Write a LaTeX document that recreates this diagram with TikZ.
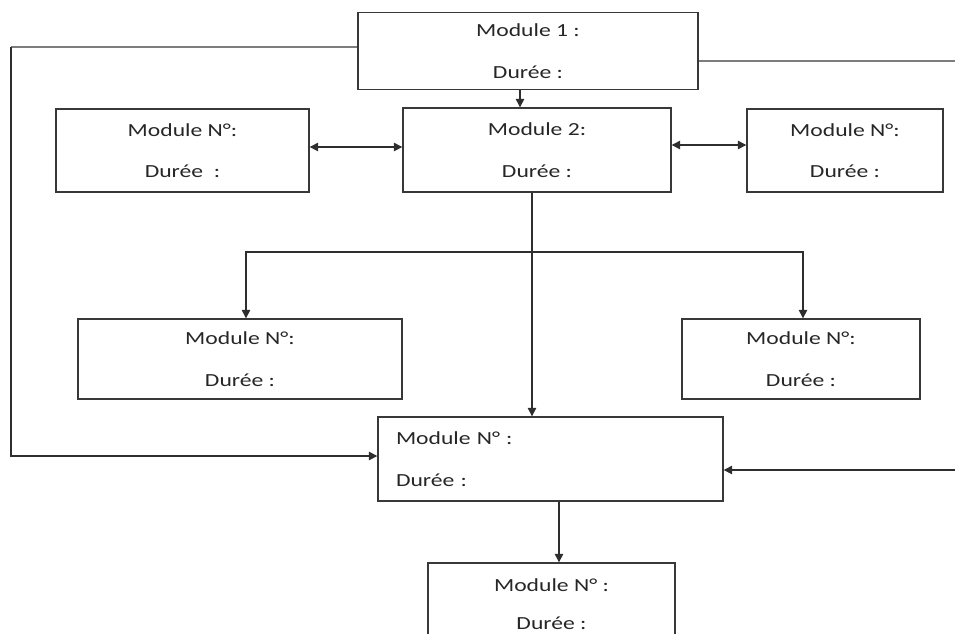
\documentclass[tikz,border=0pt]{standalone}
\usepackage{fontspec}
\setmainfont{Carlito}[FakeStretch=1.28]
\usetikzlibrary{arrows.meta}
\tikzset{
  module/.style={draw=black!78, line width=0.8pt, rectangle, inner sep=0pt, align=center,
    text=black!85, font=\fontsize{10.5}{12.6}\selectfont},
  fleche/.style={draw=black!82, line width=0.8pt, -{Triangle[length=1.7mm,width=1.7mm]}},
  fleches/.style={draw=black!82, line width=0.8pt, {Triangle[length=1.7mm,width=1.7mm]}-{Triangle[length=1.7mm,width=1.7mm]}},
  trait/.style={draw=black!78, line width=0.8pt}
}
\begin{document}
\begin{tikzpicture}

    \clip (0,0) rectangle (19.1,-12.66);

    % 1. Les modules du haut
    \node[module, minimum width=6.8cm, minimum height=1.53cm] (M1) at (10.56,-1.02) {Module 1 :\\[11pt]Durée :};
    \node[module, minimum width=5.36cm, minimum height=1.68cm] (M2) at (10.74,-3.0) {Module 2:\\[11pt]Durée :};
    \node[module, minimum width=5.06cm, minimum height=1.66cm] (L) at (3.65,-3.01) {Module N°:\\[11pt]Durée\ \ :};
    \node[module, minimum width=3.92cm, minimum height=1.66cm] (R) at (16.9,-3.01) {Module N°:\\[11pt]Durée :};

    % 2. Les deux modules du milieu
    \node[module, minimum width=6.48cm, minimum height=1.6cm] (LL) at (4.8,-7.18) {Module N°:\\[11pt]Durée :};
    \node[module, minimum width=4.76cm, minimum height=1.6cm] (LR) at (16.02,-7.18) {Module N°:\\[11pt]Durée :};

    % 3. Module central (texte à gauche) et module du bas
    \node[module, align=left, text width=6.18cm, inner xsep=0.36cm, minimum width=6.9cm, minimum height=1.68cm] (C) at (11.01,-9.18) {Module N° :\\[11pt]Durée :};
    \node[module, minimum width=4.94cm, minimum height=1.68cm] (B) at (11.03,-12.1) {};
    \node[text=black!85, font=\fontsize{10.5}{12.6}\selectfont, align=center, anchor=north] (Btxt) at ([yshift=-0.2cm]B.north) {Module N° :\\[9pt]Durée :};

    % 4. Flèches entre les modules
    \draw[fleche] ([xshift=-1.6mm]M1.south) -- ([xshift=-1.6mm]M1.south |- M2.north);
    \draw[fleches] ([yshift=0.7mm]L.east) -- ([yshift=0.7mm]L.east -| M2.west);
    \draw[fleches] ([yshift=1mm]M2.east) -- ([yshift=1mm]M2.east -| R.west);
    \draw[fleche] ([xshift=-1mm]M2.south) -- ([xshift=-1mm]M2.south |- C.north);
    \coordinate (fork) at (10.64,-5.04);
    \draw[fleche] (fork) -| ([xshift=1.2mm]LL.north);
    \draw[fleche] (fork) -| ([xshift=0.4mm]LR.north);
    \draw[fleche] ([xshift=1.7mm]C.south) -- ([xshift=1.7mm]C.south |- B.north);

    % 5. Retours sur les côtés
    \coordinate (gauche) at (0.22,-0.94);
    \coordinate (rtop) at (19.1,-1.22);
    \coordinate (rbot) at (19.1,-9.4);
    \draw[trait] ([yshift=0.8mm]M1.west) -- (gauche);
    \draw[fleche] (gauche) |- ([yshift=0.6mm]C.west);
    \draw[trait] ([yshift=-2mm]M1.east) -- (rtop);
    \draw[fleche] (rbot) -- (rbot -| C.east);

\end{tikzpicture}
\end{document}
